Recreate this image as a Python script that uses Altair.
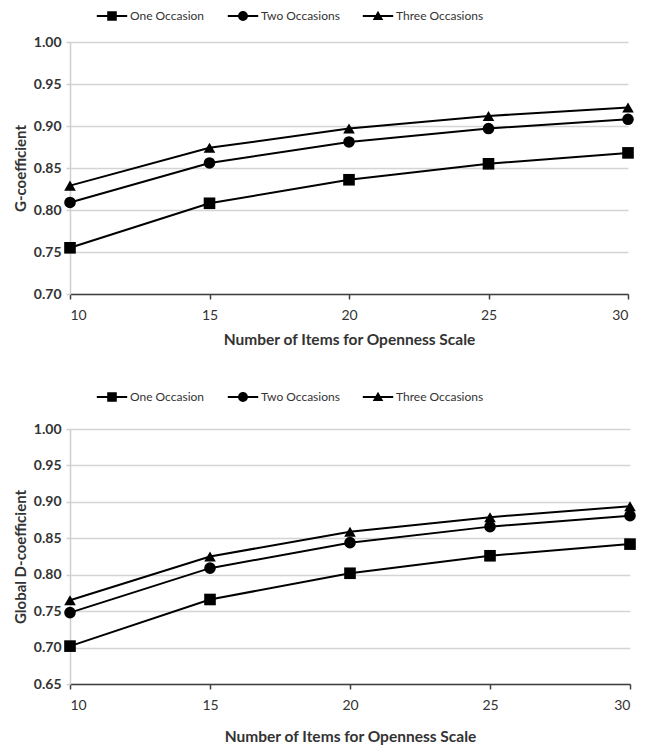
import altair as alt
import pandas as pd

items = [10, 15, 20, 25, 30]
series = ["One Occasion", "Two Occasions", "Three Occasions"]

g_one = [0.755, 0.808, 0.836, 0.855, 0.868]
g_two = [0.809, 0.856, 0.881, 0.897, 0.908]
g_three = [0.829, 0.874, 0.897, 0.912, 0.922]

d_one = [0.702, 0.766, 0.802, 0.826, 0.842]
d_two = [0.748, 0.809, 0.844, 0.866, 0.881]
d_three = [0.765, 0.825, 0.859, 0.879, 0.894]

g_ticks = [0.70, 0.75, 0.80, 0.85, 0.90, 0.95, 1.00]
d_ticks = [0.65, 0.70, 0.75, 0.80, 0.85, 0.90, 0.95, 1.00]

x_title = "Number of Items for Openness Scale"

FONT = "Lato"
marker_shapes = ["square", "circle", "triangle-up"]
bar = "M-1.9,-0.13H1.9V0.13H-1.9Z"
legend_paths = [
    bar + "M-0.6,-0.6H0.6V0.6H-0.6Z",
    bar + "M-0.62,0A0.62,0.62 0 1,1 0.62,0A0.62,0.62 0 1,1 -0.62,0Z",
    bar + "M0,-0.66L0.66,0.5H-0.66Z",
]


def long(vals_list):
    rows = []
    for s, vals in zip(series, vals_list):
        for x, v in zip(items, vals):
            rows.append({"items": x, "series": s, "value": v})
    return pd.DataFrame(rows)


def panel(df, ytitle, ticks, legend_y, title_pad, width, height):
    base = alt.Chart(df)
    x = alt.X(
        "items:Q",
        scale=alt.Scale(domain=[items[0], items[-1]], nice=False, zero=False),
        axis=alt.Axis(
            values=items, title=x_title, grid=False,
            domainColor="#404040", domainWidth=1.5,
            tickColor="#404040", tickSize=5, tickWidth=1.5,
            labelFont=FONT, labelFontSize=14, labelColor="#333333",
            labelPadding=9, titleFont=FONT, titleFontSize=15.5,
            titleFontWeight="bold", titleColor="#333333", titlePadding=title_pad,
        ),
    )
    y = alt.Y(
        "value:Q",
        scale=alt.Scale(domain=[ticks[0], ticks[-1]], nice=False, zero=False),
        axis=alt.Axis(
            values=ticks, format=".2f", title=ytitle, grid=True,
            gridColor="#d4d4d4", gridWidth=1.5,
            domainColor="#cfcfcf", domainWidth=1.5,
            tickColor="#cfcfcf", tickSize=4, tickWidth=1.5,
            labelFont=FONT, labelFontSize=14, labelFontWeight="bold",
            labelColor="#333333", labelPadding=5,
            titleFont=FONT, titleFontSize=15, titleFontWeight="bold",
            titleColor="#333333", titlePadding=5,
        ),
    )
    lines = base.mark_line(color="black", strokeWidth=2).encode(
        x=x, y=y, detail="series:N"
    )
    pts = base.mark_point(filled=True, color="black", size=135, opacity=1).encode(
        x=x, y=y,
        shape=alt.Shape("series:N", scale=alt.Scale(domain=series, range=marker_shapes), legend=None),
    )
    leg = base.mark_point(filled=True, color="black", opacity=0).encode(
        x=x, y=y,
        shape=alt.Shape(
            "series:N",
            scale=alt.Scale(domain=series, range=legend_paths),
            legend=alt.Legend(
                title=None, orient="none", legendX=34, legendY=legend_y,
                direction="horizontal", columns=3,
                labelFont=FONT, labelFontSize=12, labelColor="#333333",
                symbolSize=256, symbolOpacity=1, symbolFillColor="black",
                symbolStrokeWidth=0, labelOffset=10, columnPadding=22,
            ),
        ),
    )
    return alt.layer(lines, pts, leg).resolve_scale(shape="independent").properties(
        width=width, height=height
    )


top = panel(long([g_one, g_two, g_three]), "G-coefficient", g_ticks, -34, 10, 558, 252)
bottom = panel(long([d_one, d_two, d_three]), "Global D-coefficient", d_ticks, -40, 17, 560, 255)

chart = alt.vconcat(top, bottom, spacing=41).properties(
    padding={"left": 5, "top": 0, "right": 0, "bottom": 0}, background="white"
).configure_view(stroke=None)

chart.save("out.html", embed_options={"renderer": "svg", "actions": False})
